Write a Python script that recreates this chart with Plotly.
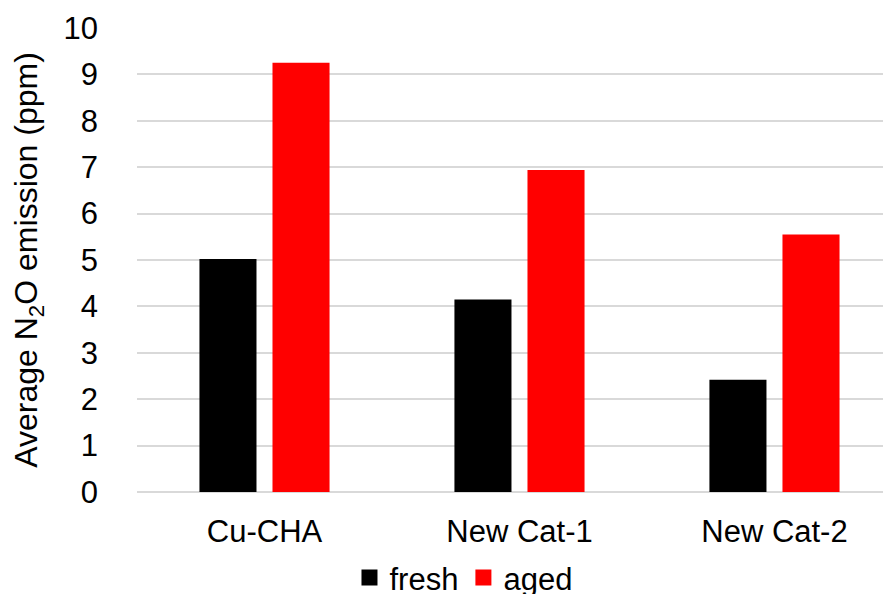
import plotly.graph_objects as go

categories = ["Cu-CHA", "New Cat-1", "New Cat-2"]
fresh = [5.02, 4.15, 2.42]
aged = [9.25, 6.94, 5.55]
y_ticks = list(range(0, 11))
series_names = ["fresh", "aged"]
series_colors = ["#000000", "#ff0000"]

FONT = "Liberation Sans, Arial, sans-serif"

fig = go.Figure()
for name, vals, col in zip(series_names, [fresh, aged], series_colors):
    fig.add_trace(go.Bar(name=name, x=categories, y=vals, showlegend=False,
                         marker=dict(color=col, line=dict(width=0))))
# legend-only entries with larger square swatches
for name, col in zip(series_names, series_colors):
    fig.add_trace(go.Scatter(name=name, x=[None], y=[None], mode="markers",
                             marker=dict(symbol="square", size=16, color=col)))

fig.update_layout(
    width=883, height=586,
    margin=dict(l=129, r=0, t=20, b=102, autoexpand=False),
    paper_bgcolor="white", plot_bgcolor="white",
    barmode="group", bargap=0.427, bargroupgap=0.219,
    font=dict(family=FONT, size=31, color="#000000"),
    showlegend=True,
    legend=dict(orientation="h", x=0.433, xanchor="center", xref="paper",
                y=-0.185, yanchor="middle", font=dict(size=31),
                itemwidth=30, tracegroupgap=0, bgcolor="rgba(0,0,0,0)"),
)
fig.update_xaxes(
    type="category", range=[-0.5, 2.457], automargin=False,
    showgrid=False, showline=False, zeroline=False,
    ticks="", ticklabelstandoff=18,
    tickfont=dict(size=31),
)
fig.update_yaxes(
    range=[0, 10], tickvals=y_ticks, ticktext=[str(v) for v in y_ticks],
    automargin=False,
    showgrid=True, gridcolor="#d9d9d9", gridwidth=1.5,
    zeroline=True, zerolinecolor="#d9d9d9", zerolinewidth=1.5,
    showline=False, ticks="", ticklabelstandoff=38,
    tickfont=dict(size=31),
    title=dict(text="Average N<sub>2</sub>O emission (ppm)", font=dict(size=32), standoff=16),
)

fig.write_html("out.html")
